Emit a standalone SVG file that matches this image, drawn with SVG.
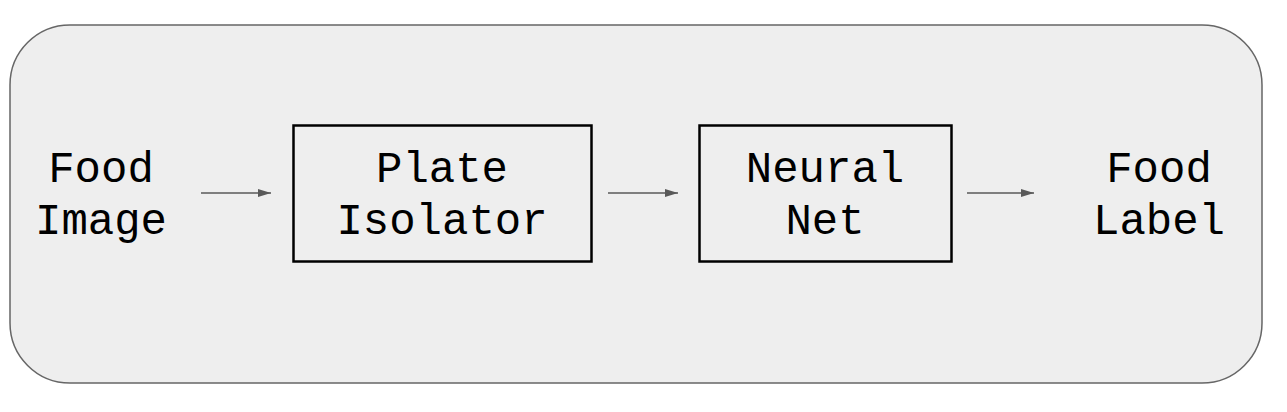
<svg xmlns="http://www.w3.org/2000/svg" width="1287" height="412" viewBox="0 0 1287 412">
<style>
.t{font-family:"Liberation Mono","DejaVu Sans Mono",monospace;font-size:44px;fill:#000;text-anchor:middle}
.box{fill:none;stroke:#000;stroke-width:2.5}
.c{stroke:#595959;stroke-width:1.5;fill:none;marker-end:url(#ah)}
</style>
<defs>
<marker id="ah" viewBox="0 0 10 10" refX="10" refY="5" markerWidth="13" markerHeight="8" markerUnits="userSpaceOnUse" orient="auto" preserveAspectRatio="none">
<path d="M0,0 L10,5 L0,10 z" fill="#595959"/>
</marker>
</defs>
<g id="container">
<rect x="10" y="25" width="1252" height="358" rx="60" ry="60" fill="#eeeeee" stroke="#666666" stroke-width="1.5"/>
</g>
<g id="food-image">
<text class="t" x="101" y="182">Food</text>
<text class="t" x="101" y="234">Image</text>
</g>
<g id="plate-isolator">
<rect class="box" x="293.5" y="125.5" width="298" height="136"/>
<text class="t" x="442" y="182">Plate</text>
<text class="t" x="442" y="234">Isolator</text>
</g>
<g id="neural-net">
<rect class="box" x="699.5" y="125.5" width="252" height="136"/>
<text class="t" x="825" y="182">Neural</text>
<text class="t" x="825" y="234">Net</text>
</g>
<g id="food-label">
<text class="t" x="1159" y="182">Food</text>
<text class="t" x="1159" y="234">Label</text>
</g>
<g id="connectors">
<line class="c" x1="201" y1="193" x2="271" y2="193"/>
<line class="c" x1="608" y1="193" x2="678" y2="193"/>
<line class="c" x1="967" y1="193" x2="1034" y2="193"/>
</g>
</svg>
